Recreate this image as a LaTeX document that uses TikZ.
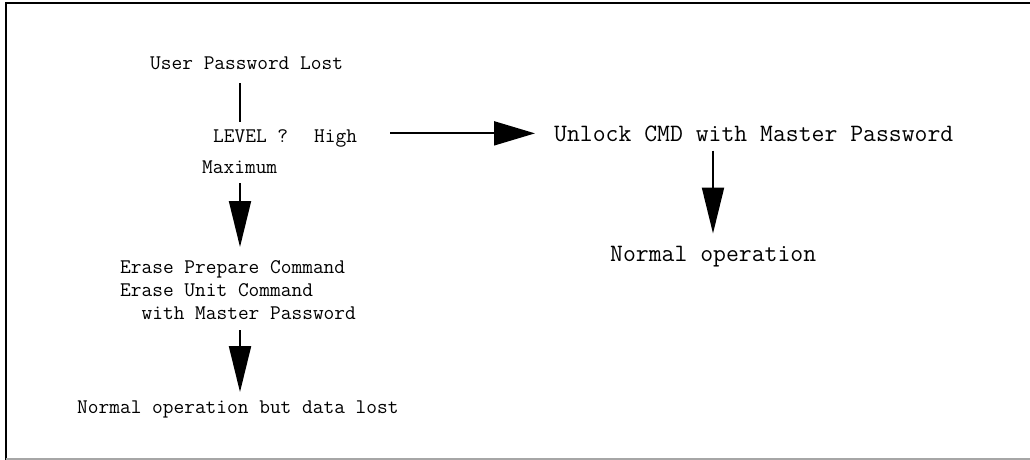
\documentclass[tikz,border=0pt]{standalone}
\usetikzlibrary{arrows.meta}
\begin{document}
\begin{tikzpicture}[
  x=1pt, y=-1pt,
  txt/.style={font=\ttfamily\fontsize{20.8}{23}\selectfont, inner sep=0pt, anchor=base west},
  bigtxt/.style={font=\ttfamily\fontsize{25}{29}\selectfont, inner sep=0pt, anchor=base west},
  conn/.style={line width=2pt, black},
  downarrow/.style={conn, -{Triangle[length=46pt, width=22pt]}},
  sidearrow/.style={conn, -{Triangle[length=41pt, width=24pt]}},
  frameline/.style={line width=2.4pt, black}
]
  \useasboundingbox (0,0) rectangle (1030,460);

  % === Cornice ===
  \draw[frameline] (5,3) -- (1030,3);
  \draw[frameline] (6,2) -- (6,460);
  \draw[line width=1.2pt, gray!70] (6,459) -- (1030,459);

  % Assi verticali delle frecce
  \coordinate (lspine) at (240,0);
  \coordinate (rspine) at (713,0);

  % === Ramo sinistro ===
  \node[txt] (upl) at (150,70) {User Password Lost};
  \node[txt] (level) at (213,142) {LEVEL ?};
  \node[txt] (high) at (314,142) {High};
  \node[txt] (maxi) at (202,173) {Maximum};
  \node[txt, anchor=north west, align=left] (erase) at (120,260)
    {Erase Prepare Command\\Erase Unit Command\\\hphantom{Er}with Master Password};
  \node[txt] (lost) at (77,413) {Normal operation but data lost};

  \draw[conn, shorten <=13pt, shorten >=7pt] (upl.south -| lspine) -- (level.north -| lspine);
  \draw[downarrow, shorten <=10pt, shorten >=13pt] (maxi.south -| lspine) -- (erase.north -| lspine);
  \draw[downarrow, shorten <=11pt, shorten >=8pt] (erase.south -| lspine) -- (lost.north -| lspine);

  % === Ramo destro ===
  \node[bigtxt] (unlock) at (554,141) {Unlock CMD with Master Password};
  \node[bigtxt] (normal) at (610,261) {Normal operation};

  \draw[sidearrow, shorten <=33pt, shorten >=19pt] (high.east |- unlock.west) -- (unlock.west);
  \draw[downarrow, shorten <=9pt, shorten >=12pt] (unlock.south -| rspine) -- (normal.north -| rspine);
\end{tikzpicture}
\end{document}
